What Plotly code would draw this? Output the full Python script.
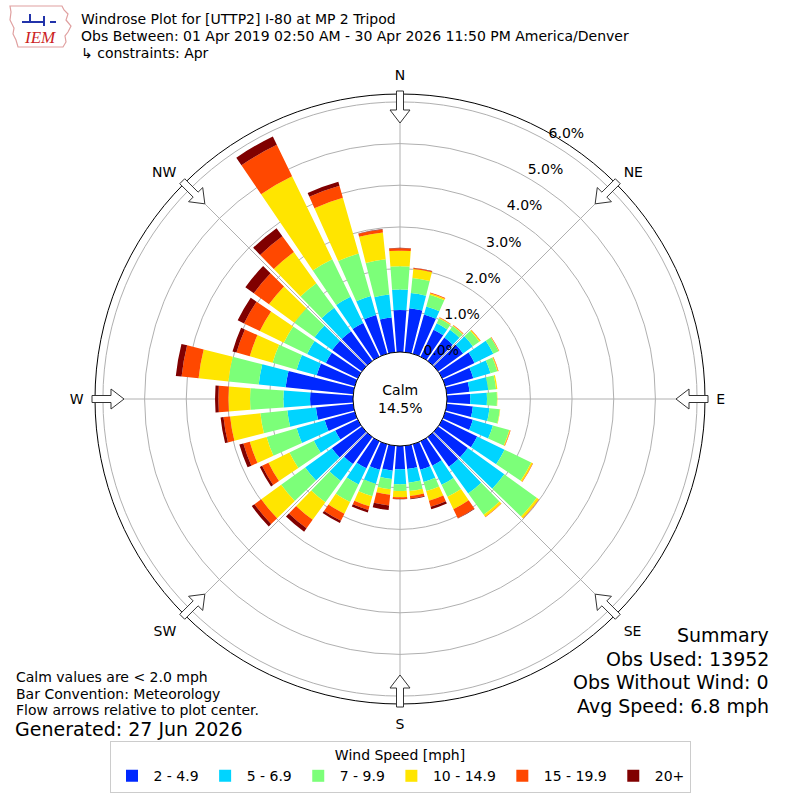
import numpy as np
import plotly.graph_objects as go

# wind direction bins (degrees, meteorological "from")
directions = list(range(0, 360, 10))

speed_bins = ["2 - 4.9", "5 - 6.9", "7 - 9.9", "10 - 14.9", "15 - 19.9", "20+"]
bin_colors = ["#0028ff", "#00d4ff", "#7cff79", "#ffe500", "#ff4800", "#800000"]

# frequency (%) for each speed bin, one value per direction
freq_2_5 = [1.01, 1.06, 0.98, 0.72, 0.69, 0.74, 0.86, 0.70, 0.55, 0.56, 0.63, 0.69,
            0.93, 0.88, 0.88, 0.65, 0.64, 0.56, 0.56, 0.60, 0.64, 0.72, 0.80, 0.89,
            0.60, 0.75, 0.90, 1.03, 1.63, 0.95, 0.85, 0.88, 0.88, 0.90, 0.97, 0.84]
freq_5_7 = [0.49, 0.37, 0.20, 0.17, 0.23, 0.29, 0.50, 0.43, 0.45, 0.40, 0.40, 0.50,
            0.73, 1.08, 0.79, 0.51, 0.30, 0.33, 0.36, 0.20, 0.35, 0.43, 0.50, 0.79,
            0.57, 0.70, 0.69, 0.64, 0.65, 0.50, 0.50, 0.52, 0.69, 0.70, 0.47, 0.55]
freq_7_10 = [0.56, 0.36, 0.29, 0.13, 0.11, 0.19, 0.14, 0.17, 0.19, 0.24, 0.25, 0.41,
             0.71, 0.96, 0.63, 0.32, 0.23, 0.20, 0.16, 0.25, 0.31, 0.47, 0.63, 0.71,
             0.65, 0.75, 0.65, 0.80, 0.73, 0.60, 0.62, 0.60, 0.73, 1.00, 1.06, 0.85]
freq_10_15 = [0.37, 0.22, 0.04, 0.02, 0.02, 0.03, 0.01, 0.02, 0.03, 0.01, 0.01, 0.02,
              0.04, 0.06, 0.06, 0.33, 0.24, 0.12, 0.15, 0.13, 0.25, 0.31, 0.52, 0.59,
              0.56, 0.42, 0.73, 0.52, 0.72, 0.57, 0.64, 0.75, 0.92, 2.21, 1.39, 0.65]
freq_15_20 = [0.06, 0.02, 0.02, 0.01, 0.01, 0.01, 0.01, 0.01, 0.00, 0.00, 0.00, 0.01,
              0.01, 0.01, 0.01, 0.24, 0.15, 0.06, 0.04, 0.26, 0.09, 0.19, 0.25, 0.20,
              0.17, 0.16, 0.16, 0.24, 0.41, 0.33, 0.42, 0.45, 0.47, 0.84, 0.30, 0.07]
freq_20_up = [0.01, 0.01, 0.00, 0.00, 0.00, 0.00, 0.00, 0.00, 0.00, 0.00, 0.00, 0.00,
              0.00, 0.00, 0.00, 0.01, 0.06, 0.02, 0.01, 0.11, 0.06, 0.06, 0.10, 0.08,
              0.06, 0.10, 0.07, 0.08, 0.14, 0.10, 0.17, 0.25, 0.24, 0.22, 0.10, 0.01]
freqs = [freq_2_5, freq_5_7, freq_7_10, freq_10_15, freq_15_20, freq_20_up]

radial_ticks = [0, 1, 2, 3, 4, 5, 6]
radial_labels = [f"{v:.1f}%" for v in radial_ticks]
compass_angles = [0, 45, 90, 135, 180, 225, 270, 315]
compass_labels = ["N", "NE", "E", "SE", "S", "SW", "W", "NW"]

calm_pct = 14.5
title_lines = ["Windrose Plot for [UTTP2] I-80 at MP 2 Tripod",
               "Obs Between: 01 Apr 2019 02:50 AM - 30 Apr 2026 11:50 PM America/Denver",
               "\u21b3 constraints: Apr"]
summary_lines = ["Summary", "Obs Used: 13952", "Obs Without Wind: 0", "Avg Speed: 6.8 mph"]
notes = ["Calm values are < 2.0 mph", "Bar Convention: Meteorology",
         "Flow arrows relative to plot center."]
generated = "Generated: 27 Jun 2026"

W = H = 800
cx, cy, R = 400, 399, 305
FONT = "DejaVu Sans"

fig = go.Figure()
for name, color, vals in zip(speed_bins, bin_colors, freqs):
    fig.add_trace(go.Barpolar(
        r=vals, theta=directions, width=8.3, name=name,
        marker=dict(color=color, line=dict(width=0)),
    ))

# radial tick labels, placed along the 30 degree line
fig.add_trace(go.Scatterpolar(
    r=radial_ticks, theta=[30] * len(radial_ticks), mode="text",
    text=radial_labels, textposition="top right", showlegend=False, hoverinfo="skip",
    textfont=dict(family=FONT, size=14, color="black"),
))


def px(x, y):
    return x / W, 1 - y / H


# flow arrows pointing toward the plot center
def arrow_path(theta):
    t = np.radians(theta)
    pts = [(308, -3.5), (289, -3.5), (289, -10), (276, 0), (289, 10), (289, 3.5), (308, 3.5)]
    out = []
    for r, v in pts:
        x = cx + r * np.sin(t) + v * np.cos(t)
        y = cy - r * np.cos(t) + v * np.sin(t)
        xp, yp = px(x, y)
        out.append(f"{xp:.5f},{yp:.5f}")
    return "M" + " L".join(out) + " Z"


shapes = [dict(type="path", path=arrow_path(a), xref="paper", yref="paper",
               line=dict(color="#333333", width=1), fillcolor="white", layer="above")
          for a in compass_angles]

# rough IEM logo outline
logo = [(10, 6), (62, 6), (64, 10), (68, 14), (66, 20), (71, 26), (68, 32),
        (65, 36), (66, 42), (63, 47), (18, 47), (16, 40), (13, 34), (14, 28),
        (10, 20), (11, 12)]
logo_path = "M" + " L".join(f"{px(x, y)[0]:.5f},{px(x, y)[1]:.5f}" for x, y in logo) + " Z"
shapes.append(dict(type="path", path=logo_path, xref="paper", yref="paper",
                   line=dict(color="#e0a0a0", width=1.2), fillcolor="rgba(0,0,0,0)"))
# little blue mark inside the logo
for (x0, y0, x1, y1) in [(22, 22, 44, 22), (44, 16, 44, 26), (30, 14, 30, 22), (50, 22, 56, 22)]:
    a, b = px(x0, y0)
    c, d = px(x1, y1)
    shapes.append(dict(type="line", x0=a, y0=b, x1=c, y1=d, xref="paper", yref="paper",
                       line=dict(color="#2233aa", width=2)))

annotations = []
for i, line in enumerate(title_lines):
    x, y = px(79, 19 + i * 17)
    annotations.append(dict(text=line, x=x, y=y, xref="paper", yref="paper",
                            xanchor="left", yanchor="middle", showarrow=False,
                            font=dict(family=FONT, size=14, color="black")))
for i, line in enumerate(summary_lines):
    x, y = px(771, 635 + i * 23.5)
    annotations.append(dict(text=line, x=x, y=y, xref="paper", yref="paper",
                            xanchor="right", yanchor="middle", showarrow=False,
                            font=dict(family=FONT, size=19, color="black")))
for i, line in enumerate(notes):
    x, y = px(14, 677 + i * 16.5)
    annotations.append(dict(text=line, x=x, y=y, xref="paper", yref="paper",
                            xanchor="left", yanchor="middle", showarrow=False,
                            font=dict(family=FONT, size=14, color="black")))
x, y = px(13, 729)
annotations.append(dict(text=generated, x=x, y=y, xref="paper", yref="paper",
                        xanchor="left", yanchor="middle", showarrow=False,
                        font=dict(family=FONT, size=19, color="black")))
x, y = px(cx, cy)
annotations.append(dict(text=f"Calm<br>{calm_pct}%", x=x, y=y, xref="paper", yref="paper",
                        xanchor="center", yanchor="middle", showarrow=False,
                        font=dict(family=FONT, size=14, color="black")))
x, y = px(40, 37)
annotations.append(dict(text="<i>IEM</i>", x=x, y=y, xref="paper", yref="paper",
                        xanchor="center", yanchor="middle", showarrow=False,
                        font=dict(family="Liberation Serif", size=17, color="#cc2222")))

fig.update_layout(
    width=W, height=H,
    margin=dict(l=0, r=0, t=0, b=0),
    paper_bgcolor="white",
    font=dict(family=FONT, size=14, color="black"),
    polar=dict(
        domain=dict(x=[(cx - R) / W, (cx + R) / W], y=[1 - (cy + R) / H, 1 - (cy - R) / H]),
        hole=47 / R,
        bgcolor="white",
        barmode="stack",
        radialaxis=dict(range=[0, 6.19], tickvals=radial_ticks, showticklabels=False,
                        showline=False, ticks="", gridcolor="#b0b0b0", gridwidth=1,
                        layer="above traces"),
        angularaxis=dict(rotation=90, direction="clockwise", tickmode="array",
                         tickvals=compass_angles, ticktext=compass_labels,
                         showline=True, linecolor="black", linewidth=1,
                         gridcolor="#b0b0b0", gridwidth=1, layer="above traces",
                         ticks="outside", ticklen=8, tickcolor="rgba(0,0,0,0)",
                         tickfont=dict(family=FONT, size=14, color="black")),
    ),
    legend=dict(orientation="h", x=0.5, xanchor="center", y=1 - 741 / H, yanchor="top",
                title=dict(text="Wind Speed [mph]", side="top center",
                           font=dict(family=FONT, size=14)),
                bordercolor="#cccccc", borderwidth=1, itemwidth=33,
                font=dict(family=FONT, size=14), traceorder="normal"),
    shapes=shapes,
    annotations=annotations,
)

fig.write_html("out.html", config={"displayModeBar": False},
               post_script="document.body.style.margin='0px';")
